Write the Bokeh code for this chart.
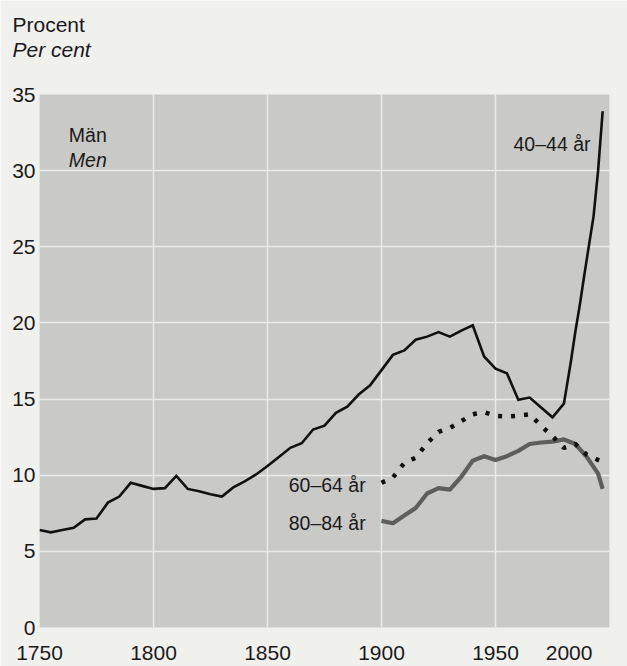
from bokeh.plotting import figure
from bokeh.models import Range1d, Label, FixedTicker, Title
from bokeh.embed import file_html
from bokeh.resources import INLINE

# ---- data ----
years_40 = [1750, 1755, 1760, 1765, 1770, 1775, 1780, 1785, 1790, 1795,
            1800, 1805, 1810, 1815, 1820, 1825, 1830, 1835, 1840, 1845,
            1850, 1855, 1860, 1865, 1870, 1875, 1880, 1885, 1890, 1895,
            1900, 1905, 1910, 1915, 1920, 1925, 1930, 1935, 1940, 1945,
            1950, 1955, 1960, 1965, 1970, 1975, 1980,
            1983, 1985, 1987, 1989, 1991, 1993, 1995, 1997]
vals_40 = [6.4, 6.25, 6.4, 6.55, 7.1, 7.15, 8.2, 8.6, 9.5, 9.3,
           9.1, 9.15, 9.95, 9.1, 8.95, 8.75, 8.6, 9.2, 9.6, 10.05,
           10.6, 11.2, 11.8, 12.1, 13.0, 13.25, 14.1, 14.5, 15.3, 15.9,
           16.9, 17.9, 18.2, 18.9, 19.1, 19.4, 19.1, 19.5, 19.85, 17.8,
           17.0, 16.7, 14.95, 15.1, 14.45, 13.8, 14.7,
           17.4, 19.4, 21.2, 23.2, 25.1, 27.0, 30.0, 33.9]

years_old = [1900, 1905, 1910, 1915, 1920, 1925, 1930, 1935, 1940, 1945,
             1950, 1955, 1960, 1965, 1970, 1975, 1980, 1985, 1990, 1995, 1997]
vals_60 = [9.5, 9.85, 10.8, 11.15, 12.1, 12.85, 13.1, 13.55, 14.0, 14.15,
           13.9, 13.85, 13.9, 14.0, 13.25, 12.55, 11.8, 12.05, 11.35, 11.0, 10.9]
vals_80 = [7.0, 6.85, 7.35, 7.85, 8.8, 9.15, 9.05, 9.9, 10.95, 11.25,
           11.0, 11.25, 11.6, 12.05, 12.15, 12.2, 12.35, 12.05, 11.2, 10.1, 9.1]

x_ticks = [1750, 1800, 1850, 1900, 1950, 2000]
x_tick_labels = ["1750", "1800", "1850", "1900", "1950", "2000"]
y_ticks = [0, 5, 10, 15, 20, 25, 30, 35]

FONT = "Liberation Sans"
PAGE_BG = "#f0f0ed"
PLOT_BG = "#c9c9c7"
INK = "#1a1a1a"

p = figure(width=627, height=666, output_backend="svg", toolbar_location=None,
           x_range=Range1d(1750, 2000), y_range=Range1d(0, 35),
           min_border_left=39, min_border_right=18, min_border_top=94,
           min_border_bottom=38)
p.background_fill_color = PLOT_BG
p.border_fill_color = PAGE_BG
p.outline_line_color = None

# titles (stacked above the frame)
p.title.visible = False
p.add_layout(Title(text="Per cent\n ", text_font=FONT, text_font_size="21px",
                   text_font_style="italic", text_color=INK, align="left",
                   offset=-27, standoff=22), "above")
p.add_layout(Title(text="Procent", text_font=FONT, text_font_size="21px",
                   text_font_style="normal", text_color=INK, align="left",
                   offset=-27, standoff=-22), "above")

# grid
p.xgrid.ticker = FixedTicker(ticks=[1800, 1850, 1900, 1950])
p.ygrid.ticker = FixedTicker(ticks=[5, 10, 15, 20, 25, 30])
p.xgrid.grid_line_color = "#ebebe9"
p.ygrid.grid_line_color = "#ebebe9"
p.xgrid.grid_line_width = 1.5
p.ygrid.grid_line_width = 1.5

# axes
fs = "\u2007\u2007\u2007"
p.xaxis.ticker = FixedTicker(ticks=x_ticks)
p.xaxis.major_label_overrides = {t: (l + fs if t == 2000 else l)
                                 for t, l in zip(x_ticks, x_tick_labels)}
for ax in (p.xaxis[0], p.yaxis[0]):
    ax.axis_line_color = None
    ax.major_tick_line_color = None
    ax.minor_tick_line_color = None
    ax.major_tick_out = 0
    ax.major_tick_in = 0
    ax.major_label_text_font = FONT
    ax.major_label_text_font_size = "21px"
    ax.major_label_text_color = INK
p.xaxis.major_label_standoff = 13
p.yaxis.major_label_standoff = 4
p.yaxis.ticker = FixedTicker(ticks=y_ticks)

# series
p.line(years_40, vals_40, line_color="#111111", line_width=2.6,
       line_join="miter")
p.line(years_old, vals_80, line_color="#5e5e5e", line_width=4.2,
       line_join="round")
p.line(years_old, vals_60, line_color="#111111", line_width=4.5,
       line_dash="4 9", line_cap="butt")

def lab(x, y, text, size="19.5px", style="normal"):
    p.add_layout(Label(x=x, y=y, text=text, text_align="left",
                       text_baseline="alphabetic", text_font=FONT,
                       text_font_size=size, text_font_style=style,
                       text_color=INK))

lab(1762.85, 32.33, "Män")
lab(1762.85, 30.69, "Men", style="italic")
lab(1957.9, 31.78, "40–44 år")
lab(1859.3, 9.39, "60–64 år")
lab(1859.3, 6.85, "80–84 år")

open("out.html", "w").write(file_html(p, INLINE))
